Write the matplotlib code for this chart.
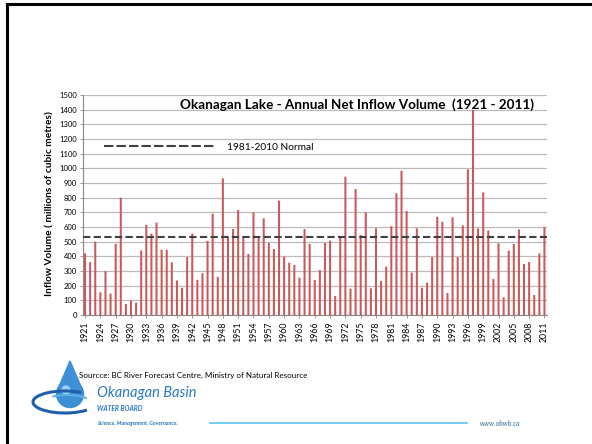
import matplotlib
matplotlib.use("Agg")
import matplotlib.pyplot as plt
import numpy as np
from matplotlib.patches import Circle, Polygon, Arc

years = list(range(1921, 2012))
inflow = [420, 360, 500, 155, 300, 145, 485, 800, 75, 100,
          85, 440, 615, 555, 630, 445, 445, 360, 235, 185,
          395, 555, 240, 285, 505, 690, 260, 932, 534, 586,
          716, 530, 416, 700, 534, 659, 491, 450, 780, 398,
          357, 341, 255, 586, 484, 239, 307, 491, 507, 130,
          534, 943, 180, 859, 545, 700, 182, 591, 232, 330,
          605, 830, 984, 709, 289, 591, 186, 220, 395, 670,
          636, 150, 666, 395, 611, 993, 1398, 591, 836, 577,
          245, 489, 120, 439, 484, 584, 348, 361, 136, 420,
          600]
normal = 535
title = "Okanagan Lake - Annual Net Inflow Volume  (1921 - 2011)"
ylabel = "Inflow Volume ( millions of cubic metres)"
source = "Sourcce: BC River Forecast Centre, Ministry of Natural Resource"

plt.rcParams["font.family"] = ["Lato", "DejaVu Sans"]


def main():
    fig = plt.figure(figsize=(5.92, 4.44), dpi=100)
    fig.patch.set_facecolor("white")

    ax = fig.add_axes([82.5 / 592, 1 - 315 / 444, 464.5 / 592, 220 / 444])
    x = np.arange(len(years))
    ax.bar(x, inflow, width=0.4, color="#C9595A", zorder=3, snap=False, linewidth=0)
    ax.axhline(normal, color="#404040", lw=1.5, dashes=(3.5, 1.6), zorder=4)

    ax.set_xlim(-0.5, len(years) - 0.5)
    ax.set_ylim(0, 1500)
    ax.set_yticks(range(0, 1501, 100))
    ax.yaxis.grid(True, color="#BBBBBB", lw=0.9, zorder=0)
    ax.tick_params(axis="y", labelsize=5.5, length=2.5, width=0.6, color="#888888", pad=1.5)
    ax.set_xticks(x[::3])
    ax.set_xticklabels([str(y) for y in years[::3]], rotation=90, fontsize=6.3)
    ax.tick_params(axis="x", length=2.5, width=0.6, color="#888888", pad=2)
    for s in ["top", "right"]:
        ax.spines[s].set_visible(False)
    ax.spines["left"].set_color("#888888")
    ax.spines["bottom"].set_color("#888888")

    ax.text(0.59, 0.955, title, transform=ax.transAxes, ha="center", va="center",
            fontsize=9.7, fontweight="bold")
    ax.plot([0.046, 0.283], [0.768, 0.768], transform=ax.transAxes,
            color="#404040", lw=1.5, dashes=(4.5, 1.5))
    ax.text(0.311, 0.76, "1981-2010 Normal", transform=ax.transAxes,
            ha="left", va="center", fontsize=7.3)

    fig.text(50 / 592, 1 - 204 / 444, ylabel, rotation=90, ha="center",
             va="center", fontsize=7.3, fontweight="bold")

    # overlay in pixel coordinates for frame, source and logo
    ov = fig.add_axes([0, 0, 1, 1], facecolor="none")
    ov.set_xlim(0, 592)
    ov.set_ylim(444, 0)
    ov.axis("off")
    ov.plot([7, 7], [4, 444], color="black", lw=2.2)
    ov.plot([7, 592], [4, 4], color="black", lw=2.2)

    ov.text(79, 375, source, fontsize=5.8, va="center", ha="left")

    # logo: drop and swirl
    ov.add_patch(Circle((70, 394), 13.5, color="#3d8fd6"))
    ov.add_patch(Polygon([[70, 361], [57.5, 390], [82.5, 390]], closed=True, color="#3d8fd6"))
    ov.add_patch(Circle((66, 390), 4, color="#9fd0f2"))
    ov.add_patch(Arc((65, 402), 64, 22, theta1=20, theta2=330, color="#1f5fa8", lw=2.2))
    ov.add_patch(Arc((67, 402), 46, 14, theta1=200, theta2=350, color="#5ab3e6", lw=1.4))

    ov.text(97, 393, "Okanagan Basin", fontsize=10.5, style="italic",
            color="#2b78c2", va="center", ha="left")
    ov.text(97, 408, "WATER BOARD", fontsize=4.8, style="italic", fontweight="bold",
            color="#2b78c2", va="center", ha="left")
    ov.text(97, 423, "Science. Management. Governance.", fontsize=3.9, style="italic",
            fontweight="bold", color="#2b78c2", va="center", ha="left")
    ov.plot([210, 467], [423, 423], color="#5cc4ea", lw=1.2)
    ov.text(480, 423, "www.obwb.ca", fontsize=4.9, style="italic", fontweight="bold",
            color="#6a8fb0", va="center", ha="left")

    fig.savefig("out.png", dpi=100)


if __name__ == "__main__":
    main()
